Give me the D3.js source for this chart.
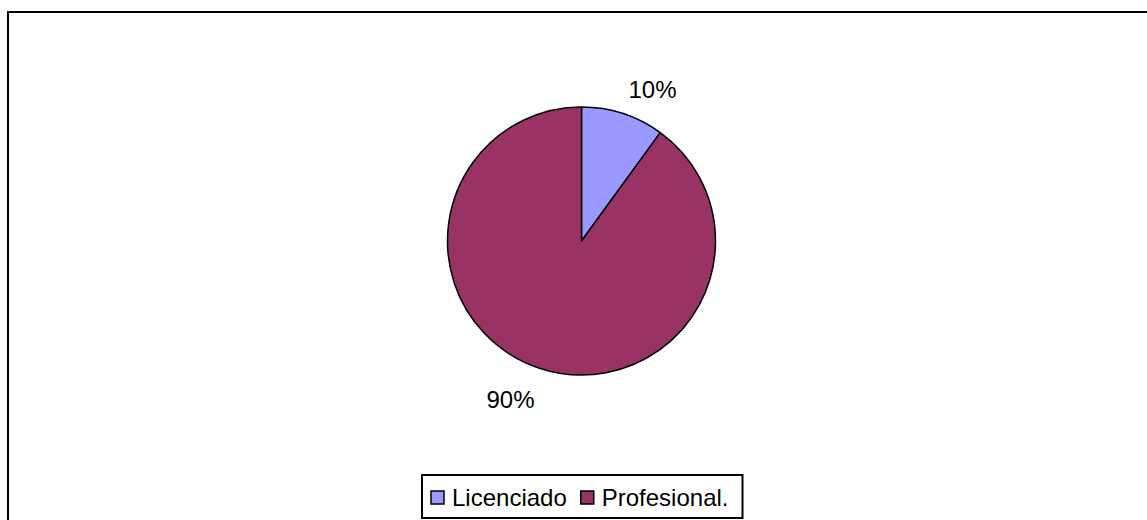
<!DOCTYPE html>
<html>
<head>
<meta charset="utf-8">
<script src="https://cdn.jsdelivr.net/npm/d3@7"></script>
<style>
  body { margin: 0; background: #fff; }
  text { font-family: "Liberation Sans", Arial, sans-serif; }
</style>
</head>
<body>
<svg id="chart" width="1147" height="520"></svg>
<script>
const categories = ["Licenciado", "Profesional."];
const values = [10, 90];
const colors = ["#9999FF", "#993366"];

const width = 1147;
const height = 520;
const center = {x: 581.5, y: 241};
const radius = 134;
const labelRadius = 152;
const fontSize = 24;

const svg = d3.select("#chart");

// chart frame (runs off the right and bottom edge)
svg.append("rect")
  .attr("x", 8).attr("y", 12)
  .attr("width", width + 20).attr("height", height + 20)
  .attr("fill", "none")
  .attr("stroke", "#000")
  .attr("stroke-width", 2);

let data = categories.map((c, i) => ({name: c, value: values[i], color: colors[i]}));
let pie = d3.pie().sort(null).value(d => d.value);
let arc = d3.arc().innerRadius(0).outerRadius(radius);
let total = d3.sum(values);

let g = svg.append("g").attr("transform", `translate(${center.x}, ${center.y})`);

g.selectAll("path")
  .data(pie(data)).enter()
  .append("path")
  .attr("d", arc)
  .attr("fill", d => d.data.color)
  .attr("stroke", "#000")
  .attr("stroke-width", 1.5)
  .attr("stroke-linejoin", "round");

// percentage labels just outside the slices
g.selectAll("text.pct")
  .data(pie(data)).enter()
  .append("text")
  .attr("class", "pct")
  .attr("x", d => {
    let a = (d.startAngle + d.endAngle) / 2;
    return labelRadius * Math.sin(a);
  })
  .attr("y", d => {
    let a = (d.startAngle + d.endAngle) / 2;
    let y = -labelRadius * Math.cos(a);
    return y < 0 ? y + 2 : y + 5;
  })
  .attr("text-anchor", d => Math.sin((d.startAngle + d.endAngle) / 2) > 0 ? "start" : "end")
  .attr("dominant-baseline", d => -Math.cos((d.startAngle + d.endAngle) / 2) < 0 ? "auto" : "hanging")
  .attr("font-size", fontSize)
  .attr("fill", "#000")
  .text(d => Math.round(d.data.value / total * 100) + "%");

// legend
let legend = svg.append("g");
let box = legend.append("rect")
  .attr("fill", "#fff")
  .attr("stroke", "#000")
  .attr("stroke-width", 2);

let lx = 431;
const ly = 491, sw = 13;
data.forEach(d => {
  legend.append("rect")
    .attr("x", lx).attr("y", ly)
    .attr("width", sw).attr("height", sw)
    .attr("fill", d.color)
    .attr("stroke", "#000")
    .attr("stroke-width", 1.5);
  let t = legend.append("text")
    .attr("x", lx + 21).attr("y", ly + 15)
    .attr("font-size", fontSize)
    .attr("fill", "#000")
    .text(d.name);
  lx += 21 + t.node().getComputedTextLength() + 14;
});

box.attr("x", 422).attr("y", 475)
  .attr("width", lx - 14 + 14 - 422)
  .attr("height", 43);
</script>
</body>
</html>
